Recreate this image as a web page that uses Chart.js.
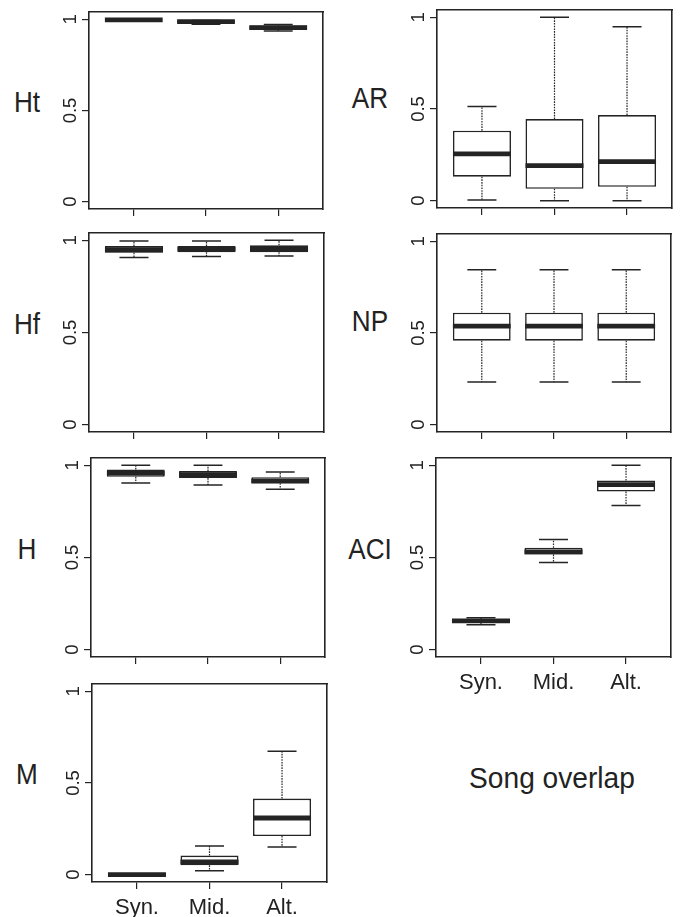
<!DOCTYPE html>
<html><head><meta charset="utf-8">
<script src="https://cdn.jsdelivr.net/npm/chart.js@4.4.1/dist/chart.umd.min.js"></script>
<style>
html,body{margin:0;padding:0;background:#fff;width:680px;height:917px;overflow:hidden;}
body{position:relative;}
canvas{position:absolute;}
.lab{position:absolute;font-family:'Liberation Sans',Arial,Helvetica,sans-serif;color:#222;white-space:nowrap;line-height:1;}
</style></head><body>
<script>
// ---- data ----
const categories = ['Syn.', 'Mid.', 'Alt.'];
const yTickValues = [0, 0.5, 1];
// each row: [min, q1, median, q3, max] for Syn., Mid., Alt.
const Ht  = [[0.993, 0.995, 0.997, 0.998, 1.000], [0.973, 0.982, 0.987, 0.991, 0.994], [0.936, 0.943, 0.954, 0.966, 0.971]];
const Hf  = [[0.907, 0.933, 0.949, 0.969, 0.996], [0.913, 0.936, 0.953, 0.969, 0.996], [0.915, 0.936, 0.956, 0.973, 1.000]];
const H   = [[0.905, 0.938, 0.958, 0.978, 1.000], [0.894, 0.931, 0.949, 0.969, 1.000], [0.870, 0.903, 0.914, 0.936, 0.964]];
const M   = [[0.000, 0.000, 0.000, 0.002, 0.004], [0.022, 0.051, 0.069, 0.104, 0.156], [0.151, 0.211, 0.309, 0.415, 0.673]];
const AR  = [[0.004, 0.131, 0.255, 0.382, 0.513], [0.000, 0.065, 0.191, 0.445, 1.000], [0.000, 0.076, 0.213, 0.467, 0.949]];
const NP  = [[0.233, 0.458, 0.538, 0.611, 0.845], [0.233, 0.458, 0.538, 0.611, 0.845], [0.233, 0.458, 0.538, 0.611, 0.845]];
const ACI = [[0.135, 0.147, 0.156, 0.165, 0.173], [0.473, 0.516, 0.531, 0.553, 0.598], [0.782, 0.858, 0.895, 0.918, 1.000]];
const footerText = 'Song overlap';

// ---- layout ----
const COLOR = '#242424';
const FONT = "'Liberation Sans', Arial, Helvetica, sans-serif";
const panels = [
  {title:'Ht',  stats:Ht,  l:89,  t:12,  r:323, b:209, lx:27,  ly:101.5, showX:false},
  {title:'Hf',  stats:Hf,  l:89,  t:233, r:324, b:432, lx:27,  ly:324,   showX:false},
  {title:'H',   stats:H,   l:91,  t:458, r:325, b:657, lx:27,  ly:549,   showX:false},
  {title:'M',   stats:M,   l:92,  t:684, r:327, b:882, lx:27,  ly:774,   showX:true},
  {title:'AR',  stats:AR,  l:437, t:10,  r:672, b:208, lx:370, ly:98,    showX:false},
  {title:'NP',  stats:NP,  l:437, t:234, r:671, b:432, lx:370, ly:321,   showX:false},
  {title:'ACI', stats:ACI, l:436, t:458, r:671, b:657, lx:370, ly:549,   showX:true}
];

const n = categories.length;
const xLo = 0.5, xHi = n + 0.5, xExt = 0.04 * (xHi - xLo);
const yLo = yTickValues[0], yHi = yTickValues[yTickValues.length - 1], yExt = 0.04 * (yHi - yLo);

function makeDatasets(stats) {
  const bars = stats.map((s, i) => ({x: i + 1, y: [s[1], s[3]]}));
  const whisk = [], staple = [], med = [];
  stats.forEach((s, i) => {
    const x = i + 1;
    whisk.push({x, y: s[3]}, {x, y: s[4]}, {x, y: null}, {x, y: s[1]}, {x, y: s[0]}, {x, y: null});
    staple.push({x: x - 0.2, y: s[4]}, {x: x + 0.2, y: s[4]}, {x, y: null},
                {x: x - 0.2, y: s[0]}, {x: x + 0.2, y: s[0]}, {x, y: null});
    med.push({x: x - 0.4, y: s[2]}, {x: x + 0.4, y: s[2]}, {x, y: null});
  });
  return [
    {type:'line', data:med, borderColor:COLOR, borderWidth:4.8, pointRadius:0, borderCapStyle:'butt', spanGaps:false, order:1},
    {type:'line', data:staple, borderColor:COLOR, borderWidth:1.5, pointRadius:0, spanGaps:false, order:2},
    {type:'bar', data:bars, backgroundColor:'#ffffff', borderColor:COLOR, borderWidth:1.6, borderSkipped:false,
     barPercentage:0.8, categoryPercentage:1.0, order:3},
    {type:'line', data:whisk, borderColor:COLOR, borderWidth:1.2, borderDash:[1.6, 1.1], pointRadius:0, spanGaps:false, order:4}
  ];
}

const PADL = 80, PADT = 10, PADR = 10, PADB = 45, XTL = 7, YTL = 7;

panels.forEach(p => {
  const lab = document.createElement('div');
  lab.className = 'lab';
  lab.textContent = p.title;
  lab.style.fontSize = '29px';
  lab.style.left = p.lx + 'px';
  lab.style.top = p.ly + 'px';
  lab.style.transform = 'translate(-50%,-50%) scaleX(0.9)';
  document.body.appendChild(lab);

  const cv = document.createElement('canvas');
  const w = (p.r - p.l) + PADL + PADR, h = (p.b - p.t) + PADT + PADB;
  cv.width = w; cv.height = h;
  cv.style.left = (p.l - PADL) + 'px';
  cv.style.top = (p.t - PADT) + 'px';
  cv.style.width = w + 'px'; cv.style.height = h + 'px';
  document.body.appendChild(cv);

  const edgeAxis = (pos, isX) => ({
    type:'linear', position:pos, display:true,
    afterFit: s => { if (isX) s.height = 0; else s.width = 0; },
    grid:{drawOnChartArea:false, drawTicks:false},
    ticks:{display:false},
    border:{display:true, color:COLOR, width:1.6}
  });

  new Chart(cv, {
    type:'bar',
    data:{datasets: makeDatasets(p.stats)},
    options:{
      responsive:false, animation:false, devicePixelRatio:1,
      layout:{padding:{left:0, top:PADT, right:PADR, bottom:0}},
      plugins:{legend:{display:false}, tooltip:{enabled:false}},
      scales:{
        x:{type:'linear', position:'bottom', min:xLo - xExt, max:xHi + xExt, offset:false,
           afterBuildTicks: s => { s.ticks = categories.map((c, i) => ({value: i + 1})); },
           afterFit: s => { s.height = PADB; },
           grid:{drawOnChartArea:false, drawTicks:true, tickLength:XTL, color:COLOR, lineWidth:1.2, offset:false},
           border:{display:true, color:COLOR, width:1.6},
           ticks:{display:p.showX, autoSkip:false, maxRotation:0, padding:6, color:'#222',
                  font:{family:FONT, size:22}, callback:(v, i) => categories[i]}},
        y:{type:'linear', position:'left', min:yLo - yExt, max:yHi + yExt,
           afterBuildTicks: s => { s.ticks = yTickValues.map(v => ({value: v})); },
           afterFit: s => { s.width = PADL; },
           grid:{drawOnChartArea:false, drawTicks:true, tickLength:YTL, color:COLOR, lineWidth:1.2},
           border:{display:true, color:COLOR, width:1.6},
           ticks:{display:true, minRotation:90, maxRotation:90, crossAlign:'center', padding:-2, color:'#222',
                  font:{family:FONT, size:18.5}, callback: v => String(v)}},
        x2: edgeAxis('top', true),
        y2: edgeAxis('right', false)
      }
    }
  });
});

const foot = document.createElement('div');
foot.className = 'lab';
foot.textContent = footerText;
foot.style.fontSize = '29px';
foot.style.left = '552px';
foot.style.top = '778px';
foot.style.transform = 'translate(-50%,-50%) scaleX(0.97)';
document.body.appendChild(foot);
</script>
</body></html>
